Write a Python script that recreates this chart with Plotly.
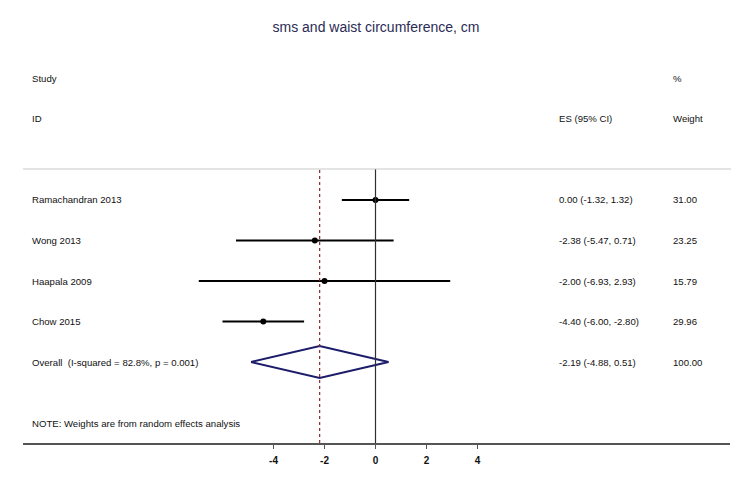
import plotly.graph_objects as go

# ---- data ----
studies = ["Ramachandran 2013", "Wong 2013", "Haapala 2009", "Chow 2015"]
es = [0.00, -2.38, -2.00, -4.40]
ci_low = [-1.32, -5.47, -6.93, -6.00]
ci_high = [1.32, 0.71, 2.93, -2.80]
weights = [31.00, 23.25, 15.79, 29.96]

overall_label = "Overall\u00a0\u00a0(I-squared = 82.8%, p = 0.001)"
overall_es = -2.19
overall_low = -4.88
overall_high = 0.51
overall_weight = 100.00

tick_vals = [-4, -2, 0, 2, 4]
title_text = "sms and waist circumference, cm"
note_text = "NOTE: Weights are from random effects analysis"

# ---- layout geometry (pixels, page coordinates; page has 8px body margin) ----
OFF = 8
W, H = 750 - OFF, 486 - OFF
def px(x):
    return x - OFF
x_left_px, x_right_px = px(23), px(730)
zero_px, unit_px = px(375.5), 25.5
y_top_px, y_bot_px = px(169), px(443)
row0_px, row_step = px(200), 40.5

x_range = [(x_left_px - zero_px) / unit_px, (x_right_px - zero_px) / unit_px]
y_range = [(y_bot_px - row0_px) / row_step, (y_top_px - row0_px) / row_step]

FONT = "Liberation Sans, Arial, sans-serif"
TXT = "#111111"
fs = 9.6

fig = go.Figure()

# CI lines
for i in range(len(studies)):
    fig.add_trace(go.Scatter(x=[ci_low[i], ci_high[i]], y=[i, i], mode="lines",
                             line=dict(color="black", width=2), hoverinfo="skip"))
# point estimates
fig.add_trace(go.Scatter(x=es, y=list(range(len(studies))), mode="markers",
                         marker=dict(color="black", size=6), hoverinfo="skip"))

# diamond
k = len(studies)
hh = 0.395
fig.add_trace(go.Scatter(
    x=[overall_low, overall_es, overall_high, overall_es, overall_low],
    y=[k, k - hh, k, k + hh, k], mode="lines",
    line=dict(color="#1c1c6b", width=2), hoverinfo="skip"))

# reference lines
fig.add_shape(type="line", xref="x", yref="y domain", x0=0, x1=0, y0=0, y1=1,
              line=dict(color="#303030", width=1.2))
fig.add_shape(type="line", xref="x", yref="y domain", x0=overall_es, x1=overall_es,
              y0=0, y1=1, line=dict(color="#8b2a2a", width=1.2, dash="3px,3px"))
# top separator line
fig.add_shape(type="line", xref="x domain", yref="y domain", x0=0, x1=1.0015, y0=1, y1=1,
              line=dict(color="#c8c8c8", width=1))

ann = []
def txt(x_page, y_pix, t, size=fs, color=TXT):
    ann.append(dict(x=px(x_page) / W, y=1 - y_pix / H, xref="paper", yref="paper",
                    text=t, showarrow=False, xanchor="left", yanchor="middle",
                    font=dict(family=FONT, size=size, color=color)))

def row_y(r):
    return row0_px + r * row_step

lab_x = 29.5
es_x = 557
wt_x = 670.5

txt(lab_x, row_y(-3), "Study")
txt(lab_x, row_y(-2), "ID")
txt(es_x, row_y(-2), "ES (95% CI)")
txt(wt_x, row_y(-3), "%")
txt(wt_x, row_y(-2), "Weight")

for i, s in enumerate(studies):
    txt(lab_x, row_y(i), s)
    txt(es_x, row_y(i), f"{es[i]:.2f} ({ci_low[i]:.2f}, {ci_high[i]:.2f})")
    txt(wt_x, row_y(i), f"{weights[i]:.2f}")

txt(lab_x, row_y(k), overall_label)
txt(es_x, row_y(k), f"{overall_es:.2f} ({overall_low:.2f}, {overall_high:.2f})")
txt(wt_x, row_y(k), f"{overall_weight:.2f}")
txt(lab_x, px(423), note_text)

fig.update_layout(
    width=W, height=H,
    margin=dict(l=0, r=0, t=0, b=0),
    paper_bgcolor="white", plot_bgcolor="white",
    showlegend=False,
    title=dict(text=title_text, x=px(376) / W, xanchor="center", y=1 - px(27) / H,
               yanchor="middle",
               font=dict(family=FONT, size=14, color="#2b2b55")),
    annotations=ann,
    xaxis=dict(domain=[x_left_px / W, x_right_px / W], range=x_range,
               showgrid=False, zeroline=False, showline=True, linecolor="#555555",
               linewidth=1.5, ticks="outside", ticklen=4, tickwidth=1.2,
               tickcolor="#555555", tickvals=tick_vals,
               ticktext=[f"<b>{v}</b>" for v in tick_vals],
               ticklabelstandoff=3,
               tickfont=dict(family=FONT, size=10, color=TXT), fixedrange=True),
    yaxis=dict(domain=[1 - y_bot_px / H, 1 - y_top_px / H], range=y_range,
               showgrid=False, zeroline=False, showline=False, showticklabels=False,
               ticks="", fixedrange=True),
)

fig.write_html("out.html")
